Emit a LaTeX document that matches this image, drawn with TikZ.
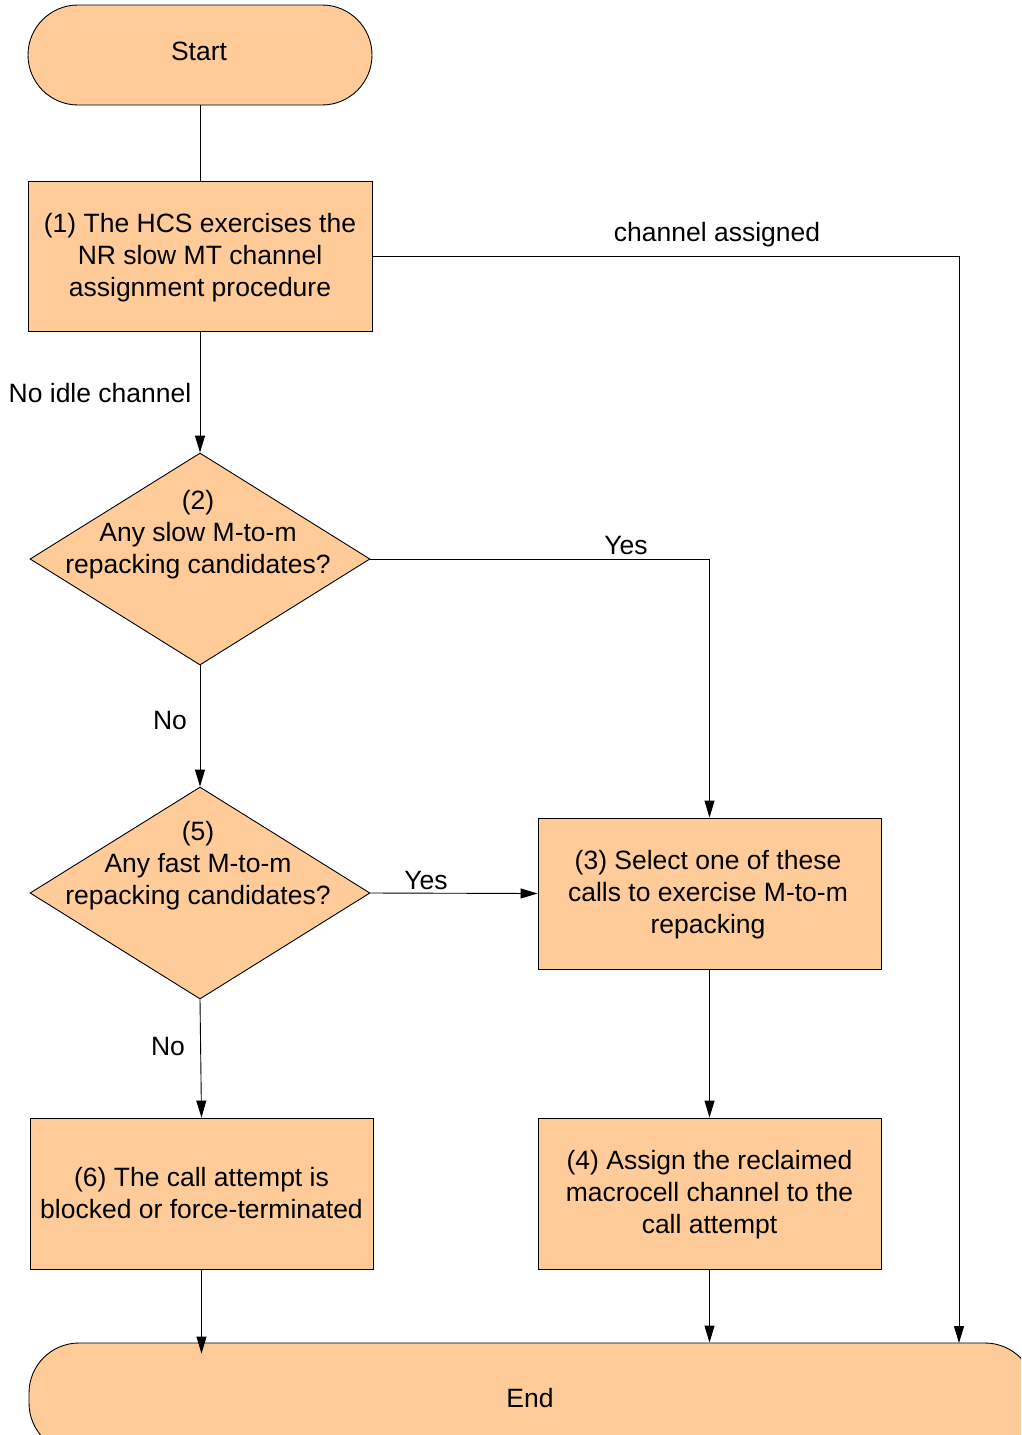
\documentclass[tikz,border=0pt]{standalone}
\usepackage{fontspec}
\setmainfont{Liberation Sans}
\usetikzlibrary{arrows.meta,shapes.geometric}
\definecolor{peach}{RGB}{255,204,153}
\begin{document}
\begin{tikzpicture}[x=1pt,y=-1pt,
  every node/.style={font=\fontsize{26.5}{32}\selectfont, inner sep=0pt},
  terminal/.style={draw=black, line width=0.9pt, fill=peach, rounded corners=50pt, align=center},
  procbox/.style={draw=black, line width=0.9pt, fill=peach, minimum width=343pt, minimum height=151pt, align=center},
  decision/.style={draw=black, line width=0.9pt, fill=peach, diamond, minimum width=340pt, minimum height=212pt},
  dtext/.style={align=center},
  lbl/.style={},
  conn/.style={line width=0.9pt, draw=black},
  arr/.style={conn, -{Triangle[length=17pt,width=10pt]}}
]
\clip (0,0) rectangle (1021,1435);

% terminals
\node[terminal, minimum width=344pt, minimum height=100pt] (start) at (200,55) {};
\node (startt) at (199,51) {Start};
\node[terminal, minimum width=1006pt, minimum height=110pt] (end) at (532,1398) {};
\node (endt) at (530,1398) {End};

% process steps
\node[procbox, minimum width=344pt, minimum height=150pt] (b1) at (200,256) {};
\node[dtext] (b1t) at (200,257.5)
  {(1) The HCS exercises the\\NR slow MT channel\\assignment procedure};
\node[procbox] (b3) at (709.5,893.5) {};
\node[dtext] (b3t) at (708,895)
  {(3) Select one of these\\calls to exercise M-to-m\\repacking};
\node[procbox] (b4) at (709.5,1193.5) {};
\node[dtext] (b4t) at (709.5,1195)
  {(4) Assign the reclaimed\\macrocell channel to the\\call attempt};
\node[procbox] (b6) at (201.5,1193.5)
  {(6) The call attempt is\\blocked or force-terminated};

% decisions
\node[decision] (d2) at (200,559) {};
\node[dtext] (d2t) at (198,534.5) {(2)\\Any slow M-to-m\\repacking candidates?};
\node[decision] (d5) at (200,893) {};
\node[dtext] (d5t) at (198,866) {(5)\\Any fast M-to-m\\repacking candidates?};

% connectors
\coordinate (rc) at (959,1343);
\draw[conn] (start.south) -- (b1.north);
\draw[arr] (b1.east) -| (rc);
\draw[arr] (b1.south) -- (d2.north);
\draw[arr] (d2.east) -| (b3.north);
\draw[arr] (d2.south) -- (d5.north);
\draw[arr] (d5.east) -- (b3.west);
\draw[arr] (d5.south) -- (b6.north);
\draw[arr] (b3.south) -- (b4.north);
\draw[arr, shorten >=-11pt] (b6.south) -- (b6.south |- end.north);
\draw[arr] (b4.south) -- (b4.south |- end.north);

% connector labels
\node[lbl] (lca) at (717,235) {channel assigned};
\node[lbl] (lni) at (100,393) {No idle channel};
\node[lbl] (ly2) at (626,546) {Yes};
\node[lbl] (ln2) at (170,721) {No};
\node[lbl] (ly5) at (426,881) {Yes};
\node[lbl] (ln5) at (168,1046) {No};
\end{tikzpicture}
\end{document}
